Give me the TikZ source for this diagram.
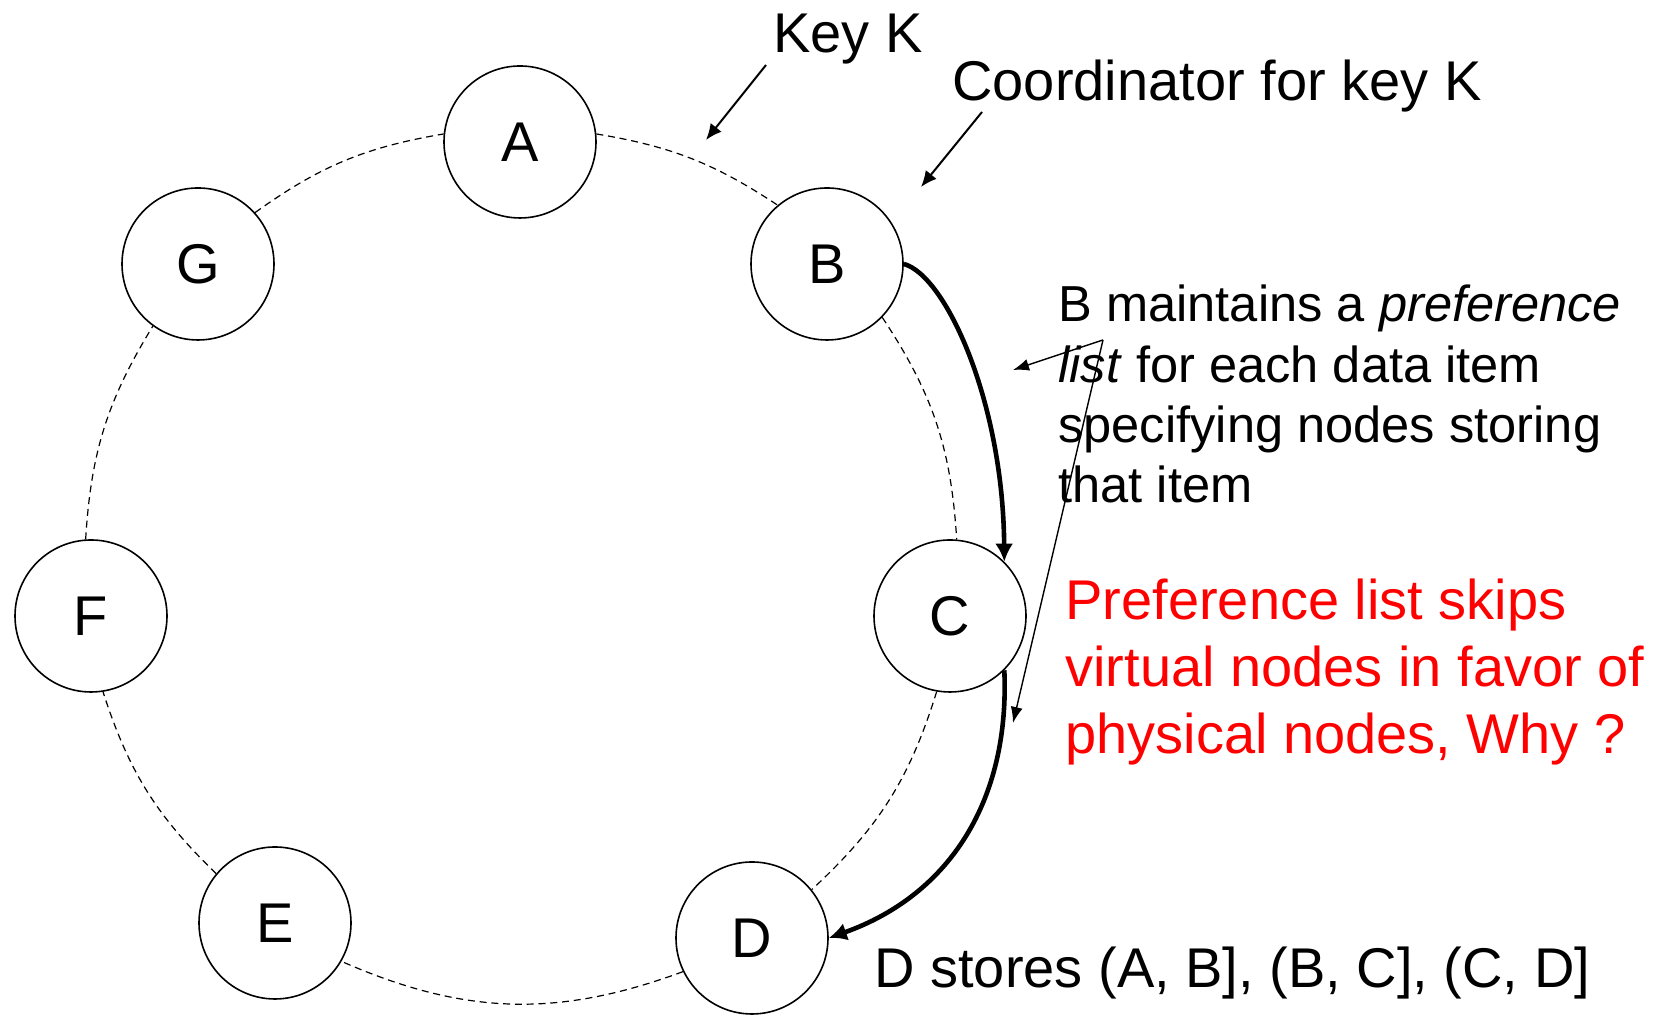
\documentclass[tikz,border=0pt]{standalone}
\usepackage{fontspec}
\setmainfont{Liberation Sans}
\usetikzlibrary{arrows.meta}
\begin{document}
\begin{tikzpicture}[x=0.5pt,y=0.5pt,
  ringnode/.style={circle,draw,line width=0.8pt,minimum size=76pt,inner sep=0pt,fill=white,font=\fontsize{28}{33.5}\selectfont},
  ring/.style={dash pattern=on 3.5pt off 2.4pt,line width=0.6pt},
  lbl/.style={inner sep=0pt,anchor=base west,font=\fontsize{28}{33.5}\selectfont},
  thinarrow/.style={line width=1pt,-{Latex[length=8pt,width=7pt]}},
  listarrow/.style={line width=0.7pt,-{Latex[length=8pt,width=6pt]}},
  thickarrow/.style={line width=2.3pt,-{Latex[length=9pt,width=9pt]}}
]
\useasboundingbox (0,0) rectangle (1672,1015);
% ring nodes
\node[ringnode] (A) at (520,873) {A};
\node[ringnode] (B) at (827,751) {B};
\node[ringnode] (C) at (950,399) {C};
\node[ringnode] (D) at (752,77) {D};
\node[ringnode] (E) at (275,92) {E};
\node[ringnode] (F) at (91,399) {F};
\node[ringnode] (G) at (198,751) {G};
% dashed ring
\draw[ring] (A.6) to[bend left=12] (B.130);
\draw[ring] (B.-44) to[bend left=15] (C.85);
\draw[ring] (C.-100) to[bend left=15] (D.39);
\draw[ring] (D.-154) to[bend left=22] (E.-30);
\draw[ring] (E.140) to[bend left=14] (F.-81);
\draw[ring] (F.94) to[bend left=14] (G.-126);
\draw[ring] (G.42) to[bend left=13] (A.174);
% labels
\node[lbl] (keyk) at (773,962) {Key K};
\node[lbl] (coord) at (952,914) {Coordinator for key K};
\node[inner sep=0pt,anchor=base west,align=left,font=\fontsize{25.3}{30.2}\selectfont] (pref) at (1058,512)
  {B maintains a \textit{preference}\\\textit{list} for each data item\\specifying nodes storing\\that item};
\node[inner sep=0pt,anchor=base west,align=left,text=red,font=\fontsize{28}{33.5}\selectfont] (skip) at (1065,261)
  {Preference list skips\\virtual nodes in favor of\\physical nodes, Why ?};
\node[lbl] (dstores) at (874,27) {D stores (A, B], (B, C], (C, D]};
% thin arrows
\coordinate (k1) at (766,950);
\coordinate (k2) at (706,875);
\draw[thinarrow] (k1) -- (k2);
\coordinate (c1) at (982,903);
\coordinate (c2) at (921,828);
\draw[thinarrow] (c1) -- (c2);
\coordinate (apex) at (1103,675);
\coordinate (t1) at (1013,645);
\coordinate (t2) at (1013,292);
\draw[listarrow] (apex) -- (t1);
\draw[listarrow] (apex) -- (t2);
% thick arrows
\draw[thickarrow] (B.east) .. controls (945,740) and (1003,615) .. (C.north east);
\draw[thickarrow] (C.south east) .. controls (1010,215) and (950,120) .. (D.east);
\end{tikzpicture}
\end{document}
